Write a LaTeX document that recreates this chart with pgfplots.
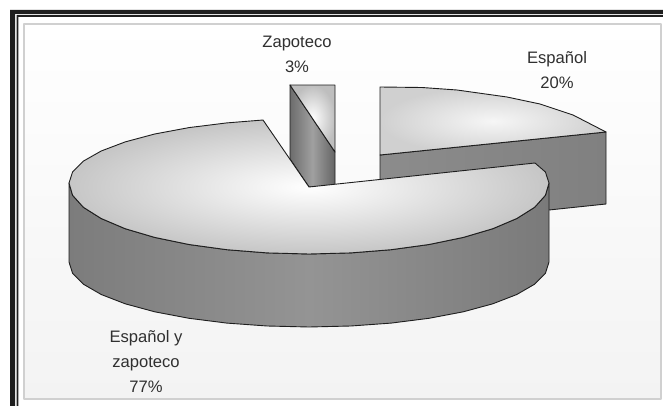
\documentclass[border=0pt]{standalone}
\usepackage{pgfplots}
\pgfplotsset{compat=1.18}
\usepackage{fontspec}
\setmainfont{Liberation Sans}
\definecolor{ink}{HTML}{1E1E1E}
\definecolor{txt}{HTML}{303030}
\begin{document}
\begin{tikzpicture}
\begin{axis}[
  scale only axis, width=663bp, height=406bp,
  xmin=0, xmax=663, ymin=0, ymax=406, y dir=reverse,
  hide axis, clip=false,
  every axis plot/.append style={no markers, line join=round, line width=0.9bp, forget plot},
]
% page
\addplot[draw=none, fill=white] coordinates {(0,0)(663,0)(663,406)(0,406)} --cycle;
% outer double frame
\addplot[draw=none, fill=ink] coordinates {(10,10)(663,10)(663,14)(15,14)(15,406)(10,406)} --cycle;
\addplot[draw=none, fill=ink] coordinates {(16.7,15)(663,15)(663,16.8)(18.4,16.8)(18.4,406)(16.7,406)} --cycle;
% panel
\addplot[draw={rgb,255:red,208;green,208;blue,208}, line width=2bp, top color=white, bottom color={rgb,255:red,243;green,243;blue,243}] coordinates {(24,24)(661,24)(661,398.5)(24,398.5)} --cycle;

% Zapoteco slice
\addplot[draw=ink, left color={rgb,255:red,108;green,108;blue,108}, right color={rgb,255:red,100;green,100;blue,100}, middle color={rgb,255:red,160;green,160;blue,160}]
  coordinates {(290,85)(335,152)(335,186)(309,187)(290,159)} --cycle;
\addplot[draw=ink, shade, inner color=white, outer color={rgb,255:red,190;green,190;blue,190}]
  coordinates {(290,85)(335,85)(335,152)} --cycle;

% Español slice
\addplot[draw=ink, left color={rgb,255:red,140;green,140;blue,140}, right color={rgb,255:red,128;green,128;blue,128}]
  coordinates {(380,155)(606,132)(606,204)(549,210)(380,226)} --cycle;
\addplot[draw=ink, shade, inner color={rgb,255:red,246;green,246;blue,246}, outer color={rgb,255:red,208;green,208;blue,208}]
  coordinates {(380,155)(380,87)(422,87.5)(457,90)(507,97)(540,104)(573,115)(606,132)} --cycle;

% Español y zapoteco slice: wall
\addplot[draw=ink, left color={rgb,255:red,124;green,124;blue,124}, right color={rgb,255:red,122;green,122;blue,122}, middle color={rgb,255:red,148;green,148;blue,148}]
  coordinates {(549,183)(545.4,195.3)(534.6,207.3)(516.8,218.5)(492.8,228.7)(463.3,237.4)(429,244.5)(391.1,249.7)(350.8,252.9)(309,254)
  (267.2,252.9)(226.9,249.7)(189,244.5)(154.7,237.4)(125.2,228.7)(101.2,218.5)(83.4,207.3)(72.6,195.3)(69,183)
  (69,262)(72.6,273.3)(83.4,284.2)(101.2,294.5)(125.2,303.8)(154.7,311.8)(189,318.3)(226.9,323.1)(267.2,326)(309,327)
  (350.8,326)(391.1,323.1)(429,318.3)(463.3,311.8)(492.8,303.8)(516.8,294.5)(534.6,284.2)(545.4,273.3)(549,262)} --cycle;
% Español y zapoteco slice: top
\addplot[draw=ink, shade, inner color=white, outer color={rgb,255:red,198;green,198;blue,198}]
  coordinates {(309,187)(535,163)(545.4,172)(549,183)(545.4,195.3)(534.6,207.3)(516.8,218.5)(492.8,228.7)(463.3,237.4)(429,244.5)(391.1,249.7)(350.8,252.9)(309,254)
  (267.2,252.9)(226.9,249.7)(189,244.5)(154.7,237.4)(125.2,228.7)(101.2,218.5)(83.4,207.3)(72.6,195.3)(69,183)
  (72.6,171.9)(83.4,161.1)(101.2,151)(125.2,141.9)(154.7,134)(189,127.6)(226.9,122.9)(263,120)} --cycle;

\node[text=txt, align=center, font=\fontsize{16.6bp}{25bp}\selectfont] at (axis cs:297,54) {Zapoteco\\3\%};
\node[text=txt, align=center, font=\fontsize{16.6bp}{25bp}\selectfont] at (axis cs:557,70) {Español\\20\%};
\node[text=txt, align=center, font=\fontsize{16.6bp}{25bp}\selectfont] at (axis cs:146,362) {Español y\\zapoteco\\77\%};
\end{axis}
\end{tikzpicture}
\end{document}
